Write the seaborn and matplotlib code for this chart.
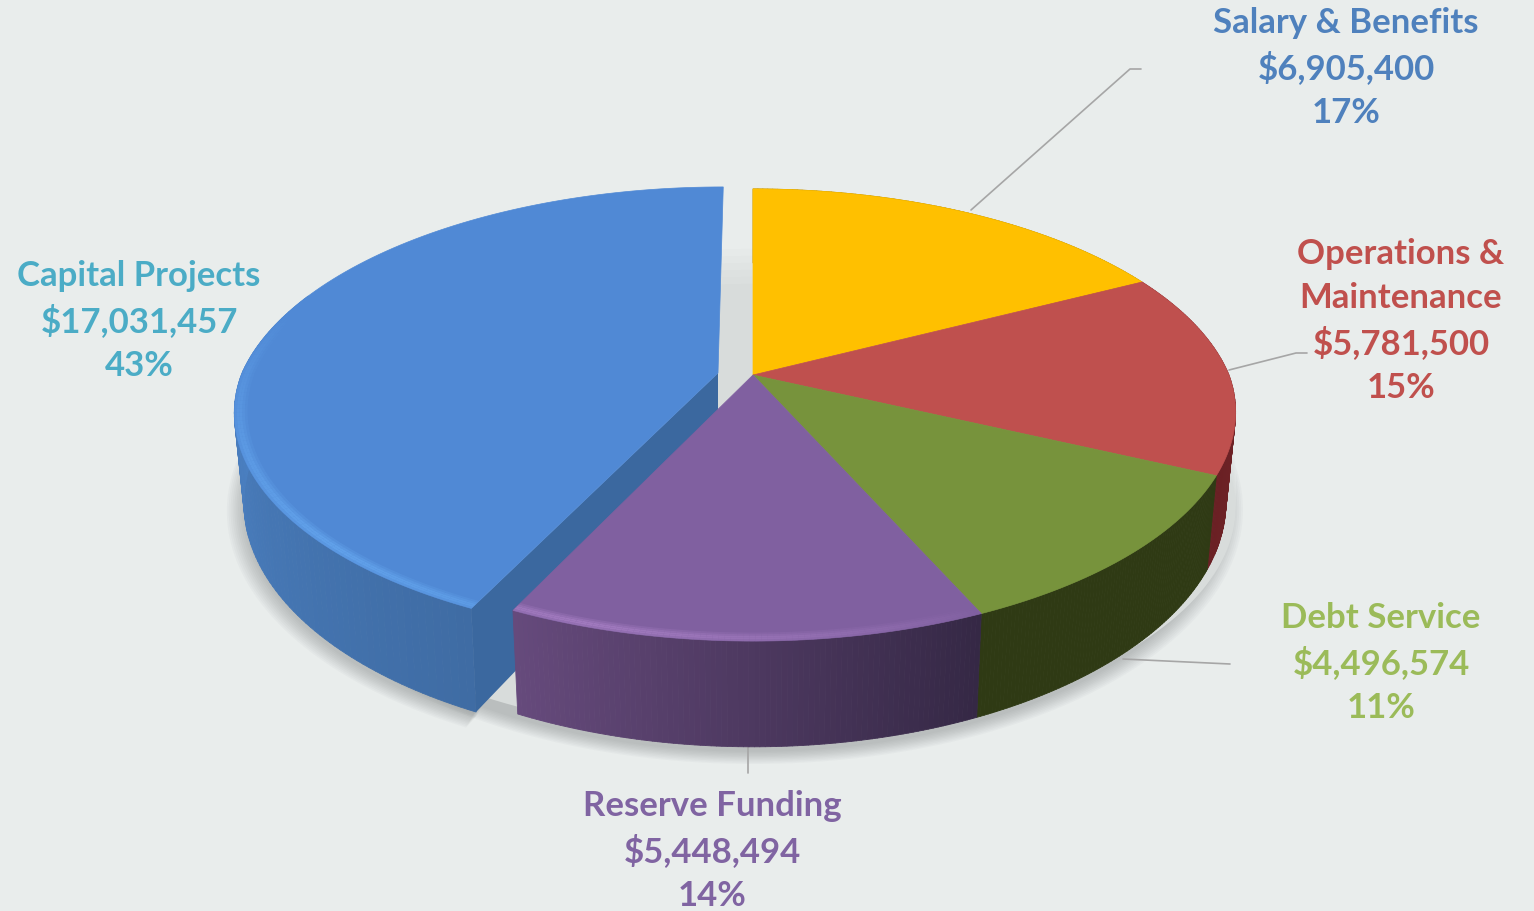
import numpy as np
import seaborn as sns
import matplotlib.pyplot as plt
from matplotlib.collections import PolyCollection
from matplotlib.colors import to_rgb

# Values, clockwise from 12 o'clock
categories = ["Salary & Benefits", "Operations &\nMaintenance", "Debt Service", "Reserve Funding", "Capital Projects"]
budget = [6905400, 5781500, 4496574, 5448494, 17031457]
top_colors = ["#ffc000", "#bf504e", "#77933c", "#8060a0", "#5089d5"]
wall_start = ["#a88000", "#7a2a2c", "#2f3a14", "#352845", "#3f6ca4"]
wall_end = ["#a88000", "#6a2024", "#2f3a14", "#664a7c", "#4f87cc"]
label_colors = ["#4f81bd", "#c0504d", "#9bbb59", "#8064a2", "#4bacc6"]
bg = "#e9edec"

sns.set_theme(style="white", rc={"figure.facecolor": bg, "axes.facecolor": bg})
plt.rcParams["font.family"] = ["Lato", "DejaVu Sans"]

# perspective settings of the disc, in pixels
cx, cy = 753, 375
a, b, k = 476, 219, 0.177
depth = 87
# pixel shift of the pulled out slice
shift_x, shift_y = -35, -2


def project(theta, r=1.0, sx=0.0, sy=0.0, z=0.0):
    t = np.radians(theta)
    u = r * np.sin(t)
    v = r * np.cos(t)
    s = 1 / (1 + k * v)
    kx = np.where(v > 0, 0.19, 0.165)
    return cx + sx * s + a * u * (1 - 0.02 * z) / (1 + kx * v), cy + sy - b * v * s + depth * z * s


def top_poly(t0, t1, sx=0.0, sy=0.0):
    th = np.linspace(t0, t1, 120)
    x, y = project(th, 1.0, sx, sy)
    ax0, ay0 = project(0.0, 0.0, sx, sy)
    return np.r_[ax0, x], np.r_[ay0, y]


def draw_wall(t0, t1, c0, c1, sx=0.0, sy=0.0, zo=2):
    th = np.linspace(t0, t1, 90)
    c0, c1 = np.array(to_rgb(c0)), np.array(to_rgb(c1))
    polys, cols = [], []
    for i in range(len(th) - 1):
        xa, ya = project(th[i], 1.0, sx, sy)
        xb, yb = project(th[i + 1], 1.0, sx, sy)
        xc, yc = project(th[i + 1], 1.0, sx, sy, 1.0)
        xd, yd = project(th[i], 1.0, sx, sy, 1.0)
        polys.append([(xa, ya), (xb, yb), (xc, yc), (xd, yd)])
        cols.append(c0 + (c1 - c0) * i / (len(th) - 2))
    ax.add_collection(PolyCollection(polys, facecolors=cols, edgecolors=cols, linewidths=0.6, zorder=zo))


def draw_bevel(t0, t1, color, strongest, sx=0.0, sy=0.0, zo=4):
    # soft light strip along the front rim
    rgb = to_rgb(color)
    th = np.linspace(t0, t1, 80)
    rings = np.linspace(0.968, 1.0, 7)
    polys, cols = [], []
    for j in range(len(rings) - 1):
        for i in range(len(th) - 1):
            xa, ya = project(th[i], rings[j], sx, sy)
            xb, yb = project(th[i + 1], rings[j], sx, sy)
            xc, yc = project(th[i + 1], rings[j + 1], sx, sy)
            xd, yd = project(th[i], rings[j + 1], sx, sy)
            polys.append([(xa, ya), (xb, yb), (xc, yc), (xd, yd)])
            along = abs(th[i] - strongest) / max(abs(t0 - strongest), abs(t1 - strongest))
            across = 1 - abs(j - 3.5) / 3.5
            cols.append((*rgb, 0.9 * across * (1 - along) ** 0.7))
    ax.add_collection(PolyCollection(polys, facecolors=cols, edgecolors="none", zorder=zo))


fig = plt.figure(figsize=(15.34, 9.11), dpi=100)
ax = fig.add_axes([0, 0, 1, 1])
ax.set_xlim(0, 1534)
ax.set_ylim(911, 0)
ax.axis("off")

shares = np.array(budget) / sum(budget)
edges = np.r_[0, np.cumsum(shares)] * 360

# soft shadow on the floor
th_all = np.linspace(0, 360, 240)
th_cap = np.linspace(edges[4], edges[5], 120)
for grow in np.linspace(1.035, 1.0, 10):
    x, y = project(th_all, grow, 0, 0, 1.0)
    ax.fill(x, y + 5, color="#5a5f5f", alpha=0.035, lw=0, zorder=1)
    x, y = project(th_cap, grow, shift_x, shift_y, 1.0)
    ax.fill(x, y + 5, color="#5a5f5f", alpha=0.035, lw=0, zorder=1)

# light shade seen in the gap between the slices
bg_rgb, gap_rgb = np.array(to_rgb(bg)), np.array(to_rgb("#d8dcdb"))
for frac, drop in zip(np.linspace(0.2, 1, 6), np.linspace(60, 95, 6)):
    x, y = project(th_all, 1.0)
    ax.fill(x, y + drop, color=bg_rgb + (gap_rgb - bg_rgb) * frac, lw=0, zorder=1.6)

# leader lines
leaders = [([971, 1130, 1141], [210, 69, 69]),
           ([1229, 1296, 1307], [370, 353, 353]),
           ([1123, 1230], [659, 664]),
           ([748, 748], [745, 773])]
for lx, ly in leaders:
    ax.plot(lx, ly, color="#a6a6a6", lw=1.2, zorder=1.5)

# exploded slice: outer wall, cut face, top
draw_wall(edges[4], 292, wall_start[4], wall_end[4], shift_x, shift_y)
px0, py0 = project(0.0, 0.0, shift_x, shift_y)
px1, py1 = project(edges[4], 1.0, shift_x, shift_y)
px2, py2 = project(edges[4], 1.0, shift_x, shift_y, 1.0)
px3, py3 = project(0.0, 0.0, shift_x, shift_y, 1.0)
ax.fill([px0, px1, px2, px3], [py0, py1, py2, py3], color="#3b689f", lw=0, zorder=2.5)
tx, ty = top_poly(edges[4], edges[5], shift_x, shift_y)
ax.fill(tx, ty, color=top_colors[4], lw=0.5, zorder=3)
draw_bevel(edges[4], 285, "#66a8f0", 225, shift_x, shift_y)

# remaining slices
for i in range(4):
    draw_wall(edges[i], edges[i + 1], wall_start[i], wall_end[i], zo=5)
for i in range(4):
    tx, ty = top_poly(edges[i], edges[i + 1])
    ax.fill(tx, ty, color=top_colors[i], lw=0.5, zorder=6)
draw_bevel(edges[3], edges[4], "#ab82c8", edges[4] - 8, zo=7)

# labels
label_pos = [(1346, 68), (1401, 321), (1381, 663), (712, 851), (139, 321)]
for name, val, share, col, (lx, ly) in zip(categories, budget, shares, label_colors, label_pos):
    ax.text(lx, ly, f"{name}\n${val:,}\n{share * 100:.0f}%", color=col, fontsize=25, fontweight="bold",
            ha="center", va="center", linespacing=1.46, zorder=10)

fig.savefig("out.png", dpi=100, facecolor=bg)
